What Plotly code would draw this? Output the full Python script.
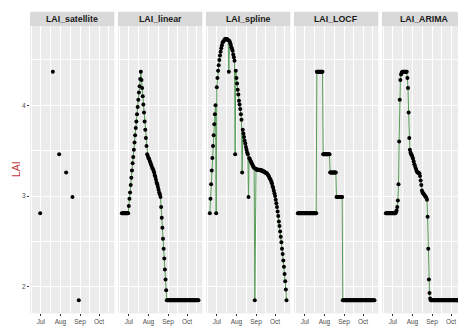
import pandas as pd
import plotly.graph_objects as go

# ---- data -------------------------------------------------------------
dates = pd.date_range("2019-06-20", "2019-10-19", freq="D")  # 122 daily steps

sat_dates = ["2019-06-30", "2019-07-20", "2019-07-30",
             "2019-08-10", "2019-08-20", "2019-08-30"]
lai_satellite = [2.81, 4.37, 3.46, 3.26, 2.99, 1.85]

lai_linear = [
    2.81, 2.81, 2.81, 2.81, 2.81, 2.81, 2.81, 2.81, 2.81, 2.81, 2.81,
    2.89, 2.97, 3.04, 3.12, 3.20, 3.28, 3.36, 3.43, 3.51, 3.59,
    3.67, 3.75, 3.82, 3.90, 3.98, 4.06, 4.14, 4.21, 4.29, 4.37,
    4.28, 4.19, 4.10, 4.01, 3.92, 3.82, 3.73, 3.64, 3.55, 3.46,
    3.44, 3.42, 3.41, 3.39, 3.37, 3.35, 3.33, 3.31, 3.30, 3.28, 3.26,
    3.23, 3.21, 3.18, 3.15, 3.13, 3.10, 3.07, 3.04, 3.02, 2.99,
    2.88, 2.76, 2.65, 2.53, 2.42, 2.31, 2.19, 2.08, 1.96, 1.85,
    1.85, 1.85, 1.85, 1.85, 1.85, 1.85, 1.85, 1.85, 1.85, 1.85,
    1.85, 1.85, 1.85, 1.85, 1.85, 1.85, 1.85, 1.85, 1.85, 1.85,
    1.85, 1.85, 1.85, 1.85, 1.85, 1.85, 1.85, 1.85, 1.85, 1.85,
    1.85, 1.85, 1.85, 1.85, 1.85, 1.85, 1.85, 1.85, 1.85, 1.85,
    1.85, 1.85, 1.85, 1.85, 1.85, 1.85, 1.85, 1.85, 1.85, 1.85,
]

lai_spline = [
    2.81, 2.97, 3.13, 3.28, 3.42, 3.55, 3.67, 3.79, 3.90, 4.00,
    2.81,
    4.20, 4.30, 4.38, 4.44, 4.50, 4.55, 4.59, 4.63, 4.66, 4.69,
    4.70, 4.71, 4.72, 4.73, 4.73, 4.73, 4.73, 4.72, 4.72,
    4.37,
    4.71, 4.69, 4.67, 4.64, 4.62, 4.60, 4.56, 4.53, 4.49,
    3.46,
    4.38, 4.30, 4.24, 4.17, 4.12, 4.05, 4.01, 3.96, 3.90, 3.84,
    3.26,
    3.73, 3.69, 3.65, 3.61, 3.58, 3.54, 3.51, 3.48, 3.46,
    2.99,
    3.42, 3.41, 3.39, 3.38, 3.36, 3.35, 3.33, 3.32, 3.31,
    1.85,
    3.30, 3.30, 3.29, 3.29, 3.29, 3.29, 3.29, 3.29, 3.28, 3.28,
    3.28, 3.28, 3.27, 3.27, 3.27, 3.26, 3.26, 3.25, 3.25, 3.24,
    3.23, 3.22, 3.20, 3.19, 3.18, 3.16, 3.14, 3.11, 3.09, 3.06,
    3.03, 3.00, 2.96, 2.92, 2.88, 2.83, 2.78, 2.72, 2.67, 2.61,
    2.55, 2.49, 2.42, 2.36, 2.29, 2.22, 2.14, 2.06, 1.97, 1.85,
]

lai_locf = [
    2.81, 2.81, 2.81, 2.81, 2.81, 2.81, 2.81, 2.81, 2.81, 2.81,
    2.81, 2.81, 2.81, 2.81, 2.81, 2.81, 2.81, 2.81, 2.81, 2.81,
    2.81, 2.81, 2.81, 2.81, 2.81, 2.81, 2.81, 2.81, 2.81, 2.81,
    4.37, 4.37, 4.37, 4.37, 4.37, 4.37, 4.37, 4.37, 4.37, 4.37,
    3.46, 3.46, 3.46, 3.46, 3.46, 3.46, 3.46, 3.46, 3.46, 3.46, 3.46,
    3.26, 3.26, 3.26, 3.26, 3.26, 3.26, 3.26, 3.26, 3.26, 3.26,
    2.99, 2.99, 2.99, 2.99, 2.99, 2.99, 2.99, 2.99, 2.99, 2.99,
    1.85, 1.85, 1.85, 1.85, 1.85, 1.85, 1.85, 1.85, 1.85, 1.85,
    1.85, 1.85, 1.85, 1.85, 1.85, 1.85, 1.85, 1.85, 1.85, 1.85,
    1.85, 1.85, 1.85, 1.85, 1.85, 1.85, 1.85, 1.85, 1.85, 1.85,
    1.85, 1.85, 1.85, 1.85, 1.85, 1.85, 1.85, 1.85, 1.85, 1.85,
    1.85, 1.85, 1.85, 1.85, 1.85, 1.85, 1.85, 1.85, 1.85, 1.85,
    1.85,
]

lai_arima = [
    2.81, 2.81, 2.81, 2.81, 2.81, 2.81, 2.81, 2.81, 2.81, 2.81,
    2.81, 2.81, 2.81, 2.81, 2.81, 2.81,
    2.82, 2.84, 2.88, 2.95, 3.13, 3.60, 4.06, 4.28, 4.34, 4.36,
    4.37, 4.37, 4.37, 4.37, 4.37, 4.37, 4.37, 4.37,
    4.30, 4.19, 3.92, 3.64, 3.51, 3.48, 3.46,
    3.45, 3.43, 3.41, 3.38, 3.35, 3.33, 3.31, 3.29, 3.27, 3.26,
    3.26, 3.25, 3.25, 3.22, 3.17, 3.12, 3.06, 3.04, 3.03, 3.02,
    3.01, 3.00, 2.99, 2.98,
    2.96, 2.77, 2.42, 2.08, 1.93, 1.87,
    1.85, 1.85, 1.85, 1.85, 1.85, 1.85, 1.85, 1.85, 1.85, 1.85,
    1.85, 1.85, 1.85, 1.85, 1.85, 1.85, 1.85, 1.85, 1.85, 1.85,
    1.85, 1.85, 1.85, 1.85, 1.85, 1.85, 1.85, 1.85, 1.85, 1.85,
    1.85, 1.85, 1.85, 1.85, 1.85, 1.85, 1.85, 1.85, 1.85, 1.85,
    1.85, 1.85, 1.85, 1.85, 1.85, 1.85, 1.85, 1.85, 1.85, 1.85,
    1.85,
]

facet_names = ["LAI_satellite", "LAI_linear", "LAI_spline", "LAI_LOCF", "LAI_ARIMA"]
month_ticks = ["2019-07-01", "2019-08-01", "2019-09-01", "2019-10-01"]
month_labels = ["Jul", "Aug", "Sep", "Oct"]

# ---- geometry (pixels) ----------------------------------------------
W, H = 458, 327
panel_left = [30.0, 118.0, 206.0, 294.0, 382.0]
panel_w = 84.3
panel_top, panel_bot = 26.0, 313.4
strip_top = 11.7

# shared scales: data span plus 5 % padding each side
t0, t1 = dates[0], dates[-1]
pad = (t1 - t0) * 0.05
x_lo, x_hi = t0 - pad, t1 + pad
y_lo, y_hi = 1.706, 4.874

minor_x = ["2019-06-16", "2019-07-16 12:00", "2019-08-16 12:00",
           "2019-09-16", "2019-10-16 12:00"]

LINE_GREEN = "rgb(88,158,88)"
PANEL_BG = "#EBEBEB"
STRIP_BG = "#D9D9D9"
TITLE_RED = "#C0393B"
FONT = "Liberation Sans, Arial, sans-serif"

fig = go.Figure()

series = [None, lai_linear, lai_spline, lai_locf, lai_arima]
for k in range(5):
    ax = "" if k == 0 else str(k + 1)
    if k == 0:
        fig.add_trace(go.Scatter(
            x=sat_dates, y=lai_satellite, mode="markers",
            marker=dict(color="black", size=4),
            xaxis="x" + ax, yaxis="y" + ax, showlegend=False,
            hoverinfo="skip"))
    else:
        fig.add_trace(go.Scatter(
            x=dates, y=series[k], mode="lines+markers",
            line=dict(color=LINE_GREEN, width=1),
            marker=dict(color="black", size=4),
            xaxis="x" + ax, yaxis="y" + ax, showlegend=False,
            hoverinfo="skip"))

layout = dict(
    width=W, height=H,
    margin=dict(l=0, r=0, t=0, b=0),
    paper_bgcolor="white",
    plot_bgcolor=PANEL_BG,
    font=dict(family=FONT),
    showlegend=False,
)

shapes = []
annotations = []
for k in range(5):
    ax = "" if k == 0 else str(k + 1)
    left = panel_left[k]
    right = left + panel_w
    vis_right = min(right, W)
    # visible part of the last panel is cut at the figure edge
    frac = (vis_right - left) / panel_w
    x_hi_k = x_lo + (x_hi - x_lo) * frac

    layout["xaxis" + ax] = dict(
        domain=[left / W, vis_right / W],
        anchor="y" + ax,
        type="date",
        range=[x_lo, x_hi_k],
        tickmode="array", tickvals=month_ticks, ticktext=month_labels,
        tickfont=dict(size=6.5, color="#4D4D4D"),
        ticks="outside", ticklen=2, tickwidth=0.6, tickcolor="#333333",
        showgrid=True, gridcolor="white", gridwidth=1,
        minor=dict(tickmode="array", tickvals=minor_x, showgrid=True,
                   gridcolor="white", gridwidth=0.5, ticks=""),
        zeroline=False, showline=False, fixedrange=True,
    )
    layout["yaxis" + ax] = dict(
        domain=[1 - panel_bot / H, 1 - panel_top / H],
        anchor="x" + ax,
        range=[y_lo, y_hi],
        tickmode="array", tickvals=[2, 3, 4], ticktext=["2", "3", "4"],
        showticklabels=(k == 0),
        ticks="outside" if k == 0 else "",
        ticklen=2, tickwidth=0.6, tickcolor="#333333",
        tickfont=dict(size=6.5, color="#4D4D4D"),
        showgrid=True, gridcolor="white", gridwidth=1,
        minor=dict(tickmode="array", tickvals=[2.5, 3.5, 4.5], showgrid=True,
                   gridcolor="white", gridwidth=0.5, ticks=""),
        zeroline=False, showline=False, fixedrange=True,
    )

    # facet strip
    shapes.append(dict(
        type="rect", xref="paper", yref="paper",
        x0=left / W, x1=right / W,
        y0=1 - panel_top / H, y1=1 - strip_top / H,
        fillcolor=STRIP_BG, line=dict(width=0), layer="below"))
    annotations.append(dict(
        text="<b>" + facet_names[k] + "</b>", showarrow=False,
        xref="paper", yref="paper",
        x=(left + right) / 2 / W, y=1 - (strip_top + panel_top) / 2 / H,
        xanchor="center", yanchor="middle",
        font=dict(size=8.8, color="#1A1A1A", family=FONT)))

# axis titles
annotations.append(dict(
    text="LAI", showarrow=False, textangle=-90,
    xref="paper", yref="paper", x=15.5 / W, y=1 - 169.5 / H,
    xanchor="center", yanchor="middle",
    font=dict(size=10.5, color=TITLE_RED, family=FONT)))
annotations.append(dict(
    text="Date", showarrow=False,
    xref="paper", yref="paper", x=248 / W, y=1 - 322.5 / H,
    xanchor="center", yanchor="top",
    font=dict(size=10.5, color=TITLE_RED, family=FONT)))

layout["shapes"] = shapes
layout["annotations"] = annotations
fig.update_layout(**layout)

fig.write_html("out.html", config={"displayModeBar": False})
